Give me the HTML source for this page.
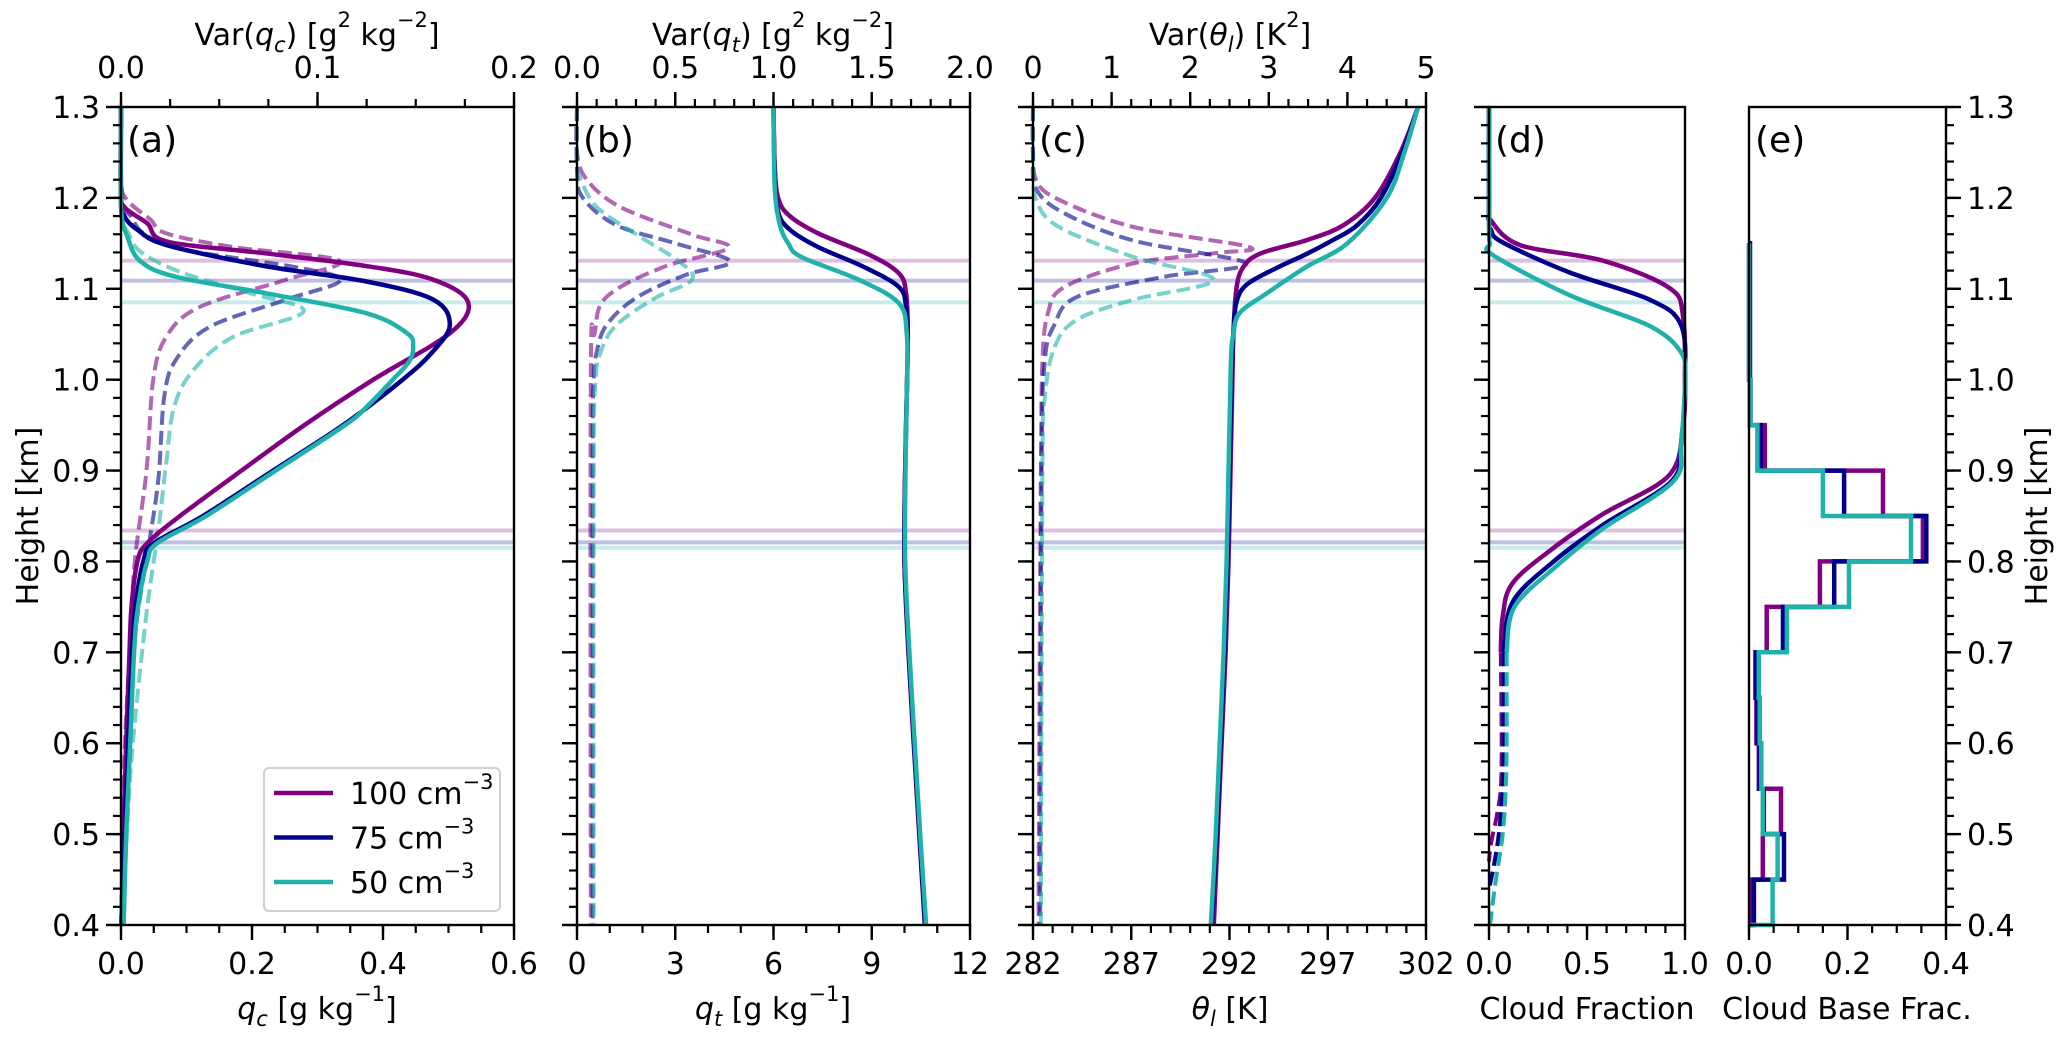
<!DOCTYPE html>
<html><head><meta charset="utf-8"><style>
html,body{margin:0;padding:0;background:#fff;}
svg{display:block;font-family:"DejaVu Sans","Liberation Sans",sans-serif;}
</style></head><body>
<svg id="fig" xmlns="http://www.w3.org/2000/svg" width="2067" height="1039" viewBox="0 0 2067 1039"></svg>
<script>
// ---- data: [height km, value] pairs ----
const qc100=[[1.30,0],[1.21,0],[1.19,0.005],[1.172,0.04],[1.152,0.07],[1.139,0.22],[1.125,0.375],[1.11,0.477],[1.085,0.53],[1.051,0.502],[1.0,0.385],[0.95,0.28],[0.90,0.184],[0.85,0.09],[0.82,0.04],[0.80,0.025],[0.75,0.016],[0.70,0.013],[0.60,0.008],[0.50,0.004],[0.40,0.002]];
const qc75=[[1.30,0],[1.20,0],[1.18,0.005],[1.165,0.025],[1.148,0.07],[1.125,0.22],[1.108,0.375],[1.088,0.477],[1.06,0.502],[1.03,0.475],[1.0,0.43],[0.95,0.339],[0.90,0.232],[0.85,0.125],[0.82,0.05],[0.80,0.034],[0.75,0.022],[0.70,0.017],[0.60,0.011],[0.50,0.006],[0.40,0.003]];
const qc50=[[1.30,0],[1.19,0],[1.157,0.01],[1.13,0.03],[1.113,0.085],[1.095,0.222],[1.073,0.375],[1.051,0.437],[1.036,0.446],[1.02,0.44],[1.0,0.415],[0.97,0.375],[0.95,0.342],[0.90,0.236],[0.85,0.13],[0.82,0.055],[0.80,0.04],[0.75,0.026],[0.70,0.02],[0.60,0.014],[0.50,0.008],[0.40,0.004]];
const vqc100=[[1.30,0],[1.22,0],[1.198,0.003],[1.176,0.015],[1.161,0.023],[1.146,0.057],[1.131,0.111],[1.11,0.084],[1.08,0.04],[1.047,0.023],[1.0,0.0164],[0.90,0.013],[0.80,0.007],[0.706,0.0046],[0.6,0.002],[0.5,0.001],[0.4,0]];
const vqc75=[[1.30,0],[1.20,0],[1.18,0.005],[1.16,0.012],[1.143,0.032],[1.123,0.091],[1.109,0.1115],[1.088,0.084],[1.058,0.045],[1.022,0.028],[0.981,0.022],[0.89,0.019],[0.816,0.014],[0.725,0.0075],[0.6,0.003],[0.5,0.0015],[0.4,0]];
const vqc50=[[1.30,0],[1.19,0],[1.16,0.004],[1.139,0.011],[1.117,0.032],[1.095,0.066],[1.075,0.093],[1.047,0.057],[1.011,0.037],[0.97,0.027],[0.908,0.023],[0.835,0.019],[0.743,0.013],[0.6,0.006],[0.5,0.003],[0.4,0.001]];
const qt100=[[1.30,6.0],[1.24,6.03],[1.20,6.14],[1.18,6.5],[1.161,7.36],[1.137,8.95],[1.117,9.83],[1.095,10.05],[1.05,10.1],[1.0,10.08],[0.9,10.02],[0.8,10.0],[0.7,10.12],[0.6,10.28],[0.5,10.45],[0.4,10.62]];
const qt75=[[1.30,6.0],[1.23,6.04],[1.185,6.14],[1.165,6.5],[1.146,7.36],[1.124,8.76],[1.102,9.83],[1.08,10.05],[1.05,10.1],[1.0,10.08],[0.9,10.02],[0.8,10.0],[0.7,10.13],[0.6,10.29],[0.5,10.46],[0.4,10.63]];
const qt50=[[1.30,6.0],[1.21,6.04],[1.17,6.2],[1.15,6.45],[1.135,6.85],[1.11,8.6],[1.084,9.83],[1.05,10.07],[1.0,10.08],[0.9,10.03],[0.8,10.02],[0.7,10.15],[0.6,10.31],[0.5,10.48],[0.4,10.66]];
const vqt100=[[1.30,0],[1.25,0],[1.22,0.05],[1.19,0.22],[1.16,0.58],[1.145,0.77],[1.124,0.44],[1.091,0.15],[1.051,0.09],[1.0,0.07],[0.4,0.07]];
const vqt75=[[1.30,0],[1.23,0],[1.20,0.03],[1.17,0.2],[1.15,0.5],[1.13,0.78],[1.115,0.55],[1.09,0.3],[1.06,0.15],[1.03,0.1],[1.0,0.085],[0.9,0.08],[0.4,0.08]];
const vqt50=[[1.30,0],[1.24,0],[1.22,0.02],[1.19,0.1],[1.16,0.3],[1.13,0.52],[1.11,0.585],[1.09,0.4],[1.06,0.2],[1.03,0.12],[1.0,0.095],[0.9,0.085],[0.4,0.085]];
const th100=[[1.30,301.6],[1.25,300.7],[1.20,299.4],[1.17,297.8],[1.154,296.0],[1.139,293.6],[1.124,292.7],[1.10,292.35],[1.05,292.2],[1.0,292.15],[0.9,292.05],[0.8,291.95],[0.7,291.8],[0.6,291.6],[0.5,291.4],[0.4,291.2]];
const th75=[[1.30,301.6],[1.25,300.8],[1.20,299.7],[1.17,298.5],[1.154,297.3],[1.138,295.9],[1.124,294.5],[1.105,292.9],[1.085,292.35],[1.05,292.2],[1.0,292.1],[0.9,292.0],[0.8,291.9],[0.7,291.75],[0.6,291.55],[0.5,291.35],[0.4,291.1]];
const th50=[[1.30,301.6],[1.25,300.9],[1.20,300.0],[1.15,298.0],[1.124,295.9],[1.095,293.9],[1.073,292.5],[1.05,292.2],[1.035,292.1],[1.0,292.05],[0.9,291.95],[0.8,291.85],[0.7,291.7],[0.6,291.5],[0.5,291.3],[0.4,291.05]];
const vth100=[[1.30,0],[1.26,0],[1.22,0.04],[1.198,0.33],[1.168,1.28],[1.146,2.75],[1.139,2.3],[1.128,1.28],[1.102,0.4],[1.073,0.19],[1.02,0.12],[0.9,0.1],[0.7,0.085],[0.4,0.07]];
const vth75=[[1.30,0],[1.25,0],[1.21,0.04],[1.183,0.4],[1.153,1.28],[1.128,2.71],[1.113,1.65],[1.091,0.56],[1.06,0.27],[1.02,0.15],[0.9,0.11],[0.4,0.09]];
const vth50=[[1.30,0],[1.24,0],[1.198,0.04],[1.168,0.33],[1.135,1.28],[1.11,2.30],[1.088,1.28],[1.066,0.56],[1.035,0.27],[0.98,0.15],[0.9,0.12],[0.4,0.1]];
const cf100=[[1.30,0],[1.19,0],[1.175,0.01],[1.148,0.16],[1.131,0.58],[1.101,0.92],[1.07,0.99],[1.0,1.0],[0.95,0.99],[0.895,0.92],[0.852,0.58],[0.815,0.33],[0.776,0.12],[0.739,0.07],[0.70,0.06]];
const cf75=[[1.30,0],[1.18,0],[1.165,0.01],[1.151,0.07],[1.118,0.41],[1.088,0.82],[1.06,0.98],[1.0,1.0],[0.93,0.98],[0.888,0.93],[0.84,0.58],[0.80,0.33],[0.755,0.12],[0.70,0.075]];
const cf50=[[1.30,0],[1.17,0],[1.15,0.005],[1.137,0.02],[1.093,0.41],[1.059,0.82],[1.03,0.98],[1.0,1.0],[0.93,0.98],[0.888,0.94],[0.836,0.58],[0.796,0.35],[0.75,0.13],[0.70,0.09]];
const cfd100=[[0.70,0.06],[0.6,0.065],[0.55,0.06],[0.52,0.04],[0.49,0.01],[0.47,0]];
const cfd75=[[0.70,0.075],[0.6,0.075],[0.55,0.07],[0.5,0.05],[0.46,0.02],[0.44,0]];
const cfd50=[[0.70,0.09],[0.6,0.09],[0.55,0.085],[0.5,0.07],[0.45,0.035],[0.4,0.005]];
const binStart=0.40, binWidth=0.05;
const cbf100=[0.004,0.028,0.065,0.02,0.015,0.013,0.036,0.144,0.353,0.272,0.032,0.003,0,0,0];
const cbf75=[0.01,0.071,0.03,0.022,0.017,0.015,0.069,0.173,0.36,0.193,0.024,0.002,0.002,0.002,0.002];
const cbf50=[0.048,0.058,0.028,0.025,0.022,0.02,0.077,0.203,0.329,0.15,0.017,0.003,0,0,0];
const inversionTop=[1.131,1.109,1.085];
const cloudBase=[0.834,0.821,0.815];
const legendLabels=["100","75","50"];
const aBottomTicks=["0.0","0.2","0.4","0.6"], aTopTicks=["0.0","0.1","0.2"];
const bBottomTicks=["0","3","6","9","12"], bTopTicks=["0.0","0.5","1.0","1.5","2.0"];
const cBottomTicks=["282","287","292","297","302"], cTopTicks=["0","1","2","3","4","5"];
const dBottomTicks=["0.0","0.5","1.0"], eBottomTicks=["0.0","0.2","0.4"];
const yTicks=["0.4","0.5","0.6","0.7","0.8","0.9","1.0","1.1","1.2","1.3"];

// ---- layout ----
const NS="http://www.w3.org/2000/svg";
const svg=document.getElementById('fig');
const Y0=107,Y1=925,HMIN=0.4,HMAX=1.3;
const FS=30;
const colors=["#800080","#00008b","#20b2aa"];
function yS(h){return Y0+(HMAX-h)/(HMAX-HMIN)*(Y1-Y0);}
function xScale(x0,x1,a,b){return v=>x0+(v-a)/(b-a)*(x1-x0);}
function el(tag,attrs,parent){const e=document.createElementNS(NS,tag);for(const k in attrs)e.setAttribute(k,attrs[k]);(parent||svg).appendChild(e);return e;}
function smooth(pts){
  let d='M'+pts[0][0].toFixed(1)+','+pts[0][1].toFixed(1);
  for(let i=0;i<pts.length-1;i++){
    const p0=pts[Math.max(0,i-1)],p1=pts[i],p2=pts[i+1],p3=pts[Math.min(pts.length-1,i+2)];
    const c1=[p1[0]+(p2[0]-p0[0])/6,p1[1]+(p2[1]-p0[1])/6];
    const c2=[p2[0]-(p3[0]-p1[0])/6,p2[1]-(p3[1]-p1[1])/6];
    d+=' C'+c1[0].toFixed(1)+','+c1[1].toFixed(1)+' '+c2[0].toFixed(1)+','+c2[1].toFixed(1)+' '+p2[0].toFixed(1)+','+p2[1].toFixed(1);
  }
  return d;
}
function drawProfile(data,xs,color,dashed,name,g,opacity){
  const pts=data.map(p=>[xs(p[1]),yS(p[0])]);
  const path=el('path',{d:smooth(pts),fill:'none',stroke:color,'stroke-width':dashed?4:4.5,'stroke-dasharray':dashed?'14,6':'none','stroke-opacity':opacity||1},g);
  
  
}
const panels={a:[121,514],b:[577,970],c:[1033,1426],d:[1489,1685],e:[1749,1946]};
function refLines(p,g){
  const [x0,x1]=panels[p];
  [inversionTop,cloudBase].forEach((arr,k)=>arr.forEach((h,i)=>{
    const l=el('line',{x1:x0,x2:x1,y1:yS(h),y2:yS(h),stroke:colors[i],'stroke-width':4,'stroke-opacity':0.25},g);
    
    
  }));
}
function text(str,x,y,anchor,size,parent){const t=el('text',{x:x,y:y,'text-anchor':anchor||'middle','font-size':size||FS,fill:'#000'},parent);t.textContent=str;return t;}
function axisTicks(p,g,side,a,b,labels,minorStep,showLabels){
  const [x0,x1]=panels[p];const xs=xScale(x0,x1,a,b);
  const dir=side==='top'?-1:1;const y=side==='top'?Y0:Y1;
  const nMinor=Math.round((b-a)/minorStep);
  for(let i=0;i<=nMinor;i++){const x=xs(a+i*minorStep);el('line',{x1:x,x2:x,y1:y,y2:y+dir*8,stroke:'#000','stroke-width':2.2},g);}
  labels.forEach(lb=>{const v=parseFloat(lb);const x=xs(v);el('line',{x1:x,x2:x,y1:y,y2:y+dir*15,stroke:'#000','stroke-width':2.4},g);
    if(showLabels){const t=text(lb,x,side==='top'?78:974,'middle',FS,g);}});
}
function yTicksDraw(x,dir,g,labels){
  for(let i=0;i<=45;i++){const h=HMIN+i*0.02;el('line',{x1:x,x2:x+dir*8,y1:yS(h),y2:yS(h),stroke:'#000','stroke-width':2.2},g);}
  yTicks.forEach(lb=>{const h=parseFloat(lb);el('line',{x1:x,x2:x+dir*15,y1:yS(h),y2:yS(h),stroke:'#000','stroke-width':2.4},g);
    if(labels){const t=text(lb,dir<0?x-21:x+21,yS(h)+11,dir<0?'end':'start',FS,g);}});
}
function frame(p,g){const [x0,x1]=panels[p];const r=el('rect',{x:x0,y:Y0,width:x1-x0,height:Y1-Y0,fill:'none',stroke:'#000','stroke-width':2.4},g);}
function group(name){const g=el('g',{});return g;}
function richLabel(g,x,y,parts,name){
  const t=el('text',{x:x,y:y,'text-anchor':'middle','font-size':FS},g);
  
  parts.forEach(pt=>{const s=el('tspan',{},t);s.textContent=pt[0];
    if(pt[1]==='i')s.setAttribute('font-style','italic');
    if(pt[1]==='sub'){s.setAttribute('font-size',21);s.setAttribute('font-style','italic');s.setAttribute('dy',7);}
    if(pt[1]==='up'){s.setAttribute('font-size',21);s.setAttribute('dy',-18);}
    if(pt[1]==='back')s.setAttribute('dy',pt[2]);
  });
  return t;
}

// ---- panel a ----
let g=group('panel-a');
refLines('a',g);
let xsA=xScale(121,514,0,0.6), xsAv=xScale(121,514,0,0.2);
[vqc100,vqc75,vqc50].forEach((d,i)=>drawProfile(d,xsAv,colors[i],true,'var-qc-'+legendLabels[i],g,0.6));
[qc100,qc75,qc50].forEach((d,i)=>drawProfile(d,xsA,colors[i],false,'qc-'+legendLabels[i],g));
frame('a',g);
axisTicks('a',g,'bottom',0,0.6,aBottomTicks,0.05,true);
axisTicks('a',g,'top',0,0.2,aTopTicks,0.025,true);
yTicksDraw(121,-1,g,true);
text('(a)',127,152,'start',36,g);
richLabel(g,317,1019,[['q','i'],['c','sub'],[' [g kg','back',-7],['−1','up'],[']','back',18]],'x-axis-title-qc');
richLabel(g,317,45,[['Var('],['q','i'],['c','sub'],[') [g','back',-7],['2','up'],[' kg','back',18],['−2','up'],[']','back',18]],'top-axis-title-var-qc');
// legend
const lg=group('legend');
el('rect',{x:264,y:768,width:236,height:143,rx:5,fill:'#fff','fill-opacity':0.85,stroke:'#d0d0d0','stroke-width':2},lg);
legendLabels.forEach((lb,i)=>{const y=793+i*44.5;
  const l=el('line',{x1:274,x2:333,y1:y,y2:y,stroke:colors[i],'stroke-width':4.5},lg);
  
  const t=el('text',{x:350,y:y+11,'font-size':FS},lg);
  const s1=el('tspan',{},t);s1.textContent=lb+' cm';const s2=el('tspan',{'font-size':21,dy:-15},t);s2.textContent='−3';});

// ---- panel b ----
g=group('panel-b');
refLines('b',g);
let xsB=xScale(577,970,0,12), xsBv=xScale(577,970,0,2);
[vqt100,vqt75,vqt50].forEach((d,i)=>drawProfile(d,xsBv,colors[i],true,'var-qt-'+legendLabels[i],g,0.6));
[qt100,qt75,qt50].forEach((d,i)=>drawProfile(d,xsB,colors[i],false,'qt-'+legendLabels[i],g));
frame('b',g);
axisTicks('b',g,'bottom',0,12,bBottomTicks,1,true);
axisTicks('b',g,'top',0,2,bTopTicks,0.1,true);
yTicksDraw(577,-1,g,false);
text('(b)',583,152,'start',36,g);
richLabel(g,773,1019,[['q','i'],['t','sub'],[' [g kg','back',-7],['−1','up'],[']','back',18]],'x-axis-title-qt');
richLabel(g,773,45,[['Var('],['q','i'],['t','sub'],[') [g','back',-7],['2','up'],[' kg','back',18],['−2','up'],[']','back',18]],'top-axis-title-var-qt');

// ---- panel c ----
g=group('panel-c');
refLines('c',g);
let xsC=xScale(1033,1426,282,302), xsCv=xScale(1033,1426,0,5);
[vth100,vth75,vth50].forEach((d,i)=>drawProfile(d,xsCv,colors[i],true,'var-theta-'+legendLabels[i],g,0.6));
[th100,th75,th50].forEach((d,i)=>drawProfile(d,xsC,colors[i],false,'theta-'+legendLabels[i],g));
frame('c',g);
axisTicks('c',g,'bottom',282,302,cBottomTicks,1,true);
axisTicks('c',g,'top',0,5,cTopTicks,0.25,true);
yTicksDraw(1033,-1,g,false);
text('(c)',1039,152,'start',36,g);
richLabel(g,1230,1019,[['θ','i'],['l','sub'],[' [K]','back',-7]],'x-axis-title-theta');
richLabel(g,1230,45,[['Var('],['θ','i'],['l','sub'],[') [K','back',-7],['2','up'],[']','back',18]],'top-axis-title-var-theta');

// ---- panel d ----
g=group('panel-d');
refLines('d',g);
let xsD=xScale(1489,1685,0,1);
[cfd100,cfd75,cfd50].forEach((d,i)=>drawProfile(d,xsD,colors[i],true,'cloud-fraction-below-'+legendLabels[i],g,1));
[cf100,cf75,cf50].forEach((d,i)=>drawProfile(d,xsD,colors[i],false,'cloud-fraction-'+legendLabels[i],g));
frame('d',g);
axisTicks('d',g,'bottom',0,1,dBottomTicks,0.1,true);
yTicksDraw(1489,-1,g,false);
text('(d)',1495,152,'start',36,g);
text('Cloud Fraction',1587,1019,'middle',FS,g);

// ---- panel e ----
g=group('panel-e');
let xsE=xScale(1749,1946,0,0.4);
[cbf100,cbf75,cbf50].forEach((vals,i)=>{
  let d='M'+xsE(0)+','+yS(binStart);
  vals.forEach((v,k)=>{const lo=binStart+k*binWidth,hi=lo+binWidth;d+=' L'+xsE(v).toFixed(1)+','+yS(lo).toFixed(1)+' L'+xsE(v).toFixed(1)+','+yS(hi).toFixed(1);});
  d+=' L'+xsE(0)+','+yS(binStart+vals.length*binWidth);
  const p=el('path',{d:d,fill:'none',stroke:colors[i],'stroke-width':4.5},g);
  
  
});
frame('e',g);
axisTicks('e',g,'bottom',0,0.4,eBottomTicks,0.05,true);
yTicksDraw(1946,1,g,true);
text('(e)',1755,152,'start',36,g);
text('Cloud Base Frac.',1847,1019,'middle',FS,g);

// y titles
let t=text('Height [km]',0,0,'middle',FS);t.setAttribute('transform','translate(38,516) rotate(-90)');

t=text('Height [km]',0,0,'middle',FS);t.setAttribute('transform','translate(2047,516) rotate(-90)');

</script>
</body></html>
